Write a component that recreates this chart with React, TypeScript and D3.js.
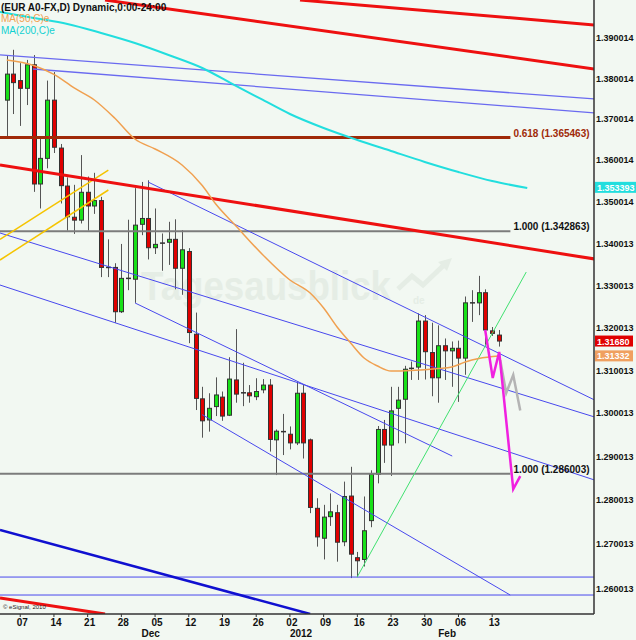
import React from 'react';
import * as d3 from 'd3';

// ---------- DATA ----------
const dates = [
  '2011-11-03','2011-11-04','2011-11-07','2011-11-08','2011-11-09','2011-11-10','2011-11-11',
  '2011-11-14','2011-11-15','2011-11-16','2011-11-17','2011-11-18','2011-11-21','2011-11-22',
  '2011-11-23','2011-11-24','2011-11-25','2011-11-28','2011-11-29','2011-11-30','2011-12-01',
  '2011-12-02','2011-12-05','2011-12-06','2011-12-07','2011-12-08','2011-12-09','2011-12-12',
  '2011-12-13','2011-12-14','2011-12-15','2011-12-16','2011-12-19','2011-12-20','2011-12-21',
  '2011-12-22','2011-12-23','2011-12-26','2011-12-27','2011-12-28','2011-12-29','2011-12-30',
  '2012-01-02','2012-01-03','2012-01-04','2012-01-05','2012-01-06','2012-01-09','2012-01-10',
  '2012-01-11','2012-01-12','2012-01-13','2012-01-16','2012-01-17','2012-01-18','2012-01-19',
  '2012-01-20','2012-01-23','2012-01-24','2012-01-25','2012-01-26','2012-01-27','2012-01-30',
  '2012-01-31','2012-02-01','2012-02-02','2012-02-03','2012-02-06','2012-02-07','2012-02-08',
  '2012-02-09','2012-02-10','2012-02-13','2012-02-14'
];
const opens = [
  1.3746,1.3810,1.3794,1.3775,1.3833,1.3542,1.3604,1.3746,1.3629,1.3537,1.3462,1.3455,1.3522,1.3489,
  1.3502,1.3342,1.3342,1.3237,1.3316,1.3314,1.3445,1.3459,1.3389,1.3400,1.3402,1.3409,1.3340,1.3380,
  1.3184,1.3033,1.2984,1.3015,1.3037,1.2995,1.3077,1.3047,1.3047,1.3038,1.3054,1.3065,1.2938,1.2957,
  1.2951,1.2931,1.3046,1.2938,1.2781,1.2713,1.2762,1.2771,1.2705,1.2809,1.2669,1.2665,1.2753,1.2859,
  1.2962,1.2926,1.3011,1.3032,1.3104,1.3107,1.3215,1.3141,1.3082,1.3157,1.3145,1.3151,1.3128,1.3258,
  1.3258,1.3282,1.3192,1.3182
];
const highs = [
  1.3857,1.3870,1.3837,1.3845,1.3857,1.3653,1.3794,1.3815,1.3639,1.3558,1.3540,1.3612,1.3560,1.3569,
  1.3511,1.3409,1.3352,1.3398,1.3456,1.3532,1.3547,1.3551,1.3483,1.3423,1.3451,1.3457,1.3431,1.3388,
  1.3235,1.3061,1.3046,1.3083,1.3050,1.3130,1.3196,1.3117,1.3065,1.3081,1.3079,1.3079,1.2962,1.2998,
  1.2969,1.3073,1.3065,1.2941,1.2804,1.2789,1.2815,1.2789,1.2842,1.2876,1.2682,1.2808,1.2868,1.2970,
  1.2984,1.3061,1.3061,1.3110,1.3120,1.3233,1.3229,1.3211,1.3205,1.3174,1.3167,1.3169,1.3273,1.3288,
  1.3322,1.3290,1.3201,1.3194
];
const lows = [
  1.3657,1.3712,1.3683,1.3734,1.3523,1.3483,1.3580,1.3617,1.3495,1.3430,1.3422,1.3447,1.3430,1.3470,
  1.3319,1.3319,1.3211,1.3234,1.3288,1.3258,1.3419,1.3361,1.3374,1.3334,1.3348,1.3290,1.3277,1.3163,
  1.3007,1.2943,1.2957,1.2993,1.2982,1.2993,1.3024,1.3016,1.3024,1.3030,1.3046,1.2911,1.2857,1.2903,
  1.2916,1.2926,1.2895,1.2770,1.2694,1.2665,1.2741,1.2660,1.2695,1.2623,1.2625,1.2649,1.2738,1.2838,
  1.2885,1.2855,1.2930,1.2930,1.3077,1.3077,1.3078,1.3039,1.3024,1.3077,1.3061,1.3026,1.3089,1.3213,
  1.3229,1.3159,1.3180,1.3155
];
const closes = [
  1.3810,1.3789,1.3775,1.3833,1.3542,1.3604,1.3746,1.3631,1.3538,1.3463,1.3455,1.3522,1.3489,1.3502,
  1.3342,1.3342,1.3237,1.3316,1.3316,1.3443,1.3459,1.3389,1.3397,1.3400,1.3409,1.3340,1.3384,1.3188,
  1.3034,1.2982,1.3011,1.3042,1.2993,1.3079,1.3044,1.3047,1.3040,1.3050,1.3065,1.2939,1.2958,1.2957,
  1.2931,1.3046,1.2931,1.2783,1.2716,1.2761,1.2773,1.2704,1.2808,1.2677,1.2662,1.2730,1.2859,1.2962,
  1.2926,1.3005,1.3030,1.3102,1.3104,1.3215,1.3143,1.3082,1.3157,1.3145,1.3151,1.3128,1.3258,1.3258,
  1.3282,1.3194,1.3186,1.3168
];
opens[18] = 1.3316;

const ma50Index = [0,4,7,10,13,16,19,22,26,29,31,34,38,42,45,47,49,51,53,55,57,60,64,66,68,70,73];
const ma50Value = [1.38448,1.38312,1.38091,1.37759,1.37464,1.37023,1.36511,1.36268,1.35880,1.35384,
  1.34938,1.34409,1.33716,1.33121,1.32813,1.32458,1.32010,1.31634,1.31282,1.31095,1.30978,1.30990,
  1.31036,1.31071,1.31189,1.31271,1.31329];
const ma200Index = [-1,4,9,14,19,24,29,34,38,42,47,52,57,62,67,72,77.2];
const ma200Value = [1.39638,1.39489,1.39340,1.39116,1.38868,1.38572,1.38251,1.37808,1.37464,1.37121,
  1.36779,1.36487,1.36219,1.35954,1.35710,1.35492,1.35323];

const yTickValues = [1.390014,1.380014,1.370014,1.360014,1.350014,1.340013,1.330013,1.320013,1.310013,
  1.300013,1.290013,1.280013,1.270013,1.260013];
const yTickLabels = ['1.390014','1.380014','1.370014','1.360014','1.350014','1.340013','1.330013',
  '1.320013','1.310013','1.300013','1.290013','1.280013','1.270013','1.260013'];

const xTickDates = ['2011-11-07','2011-11-14','2011-11-21','2011-11-28','2011-12-05','2011-12-12',
  '2011-12-19','2011-12-26','2012-01-02','2012-01-09','2012-01-16','2012-01-23','2012-01-30',
  '2012-02-06','2012-02-13'];
const xTickLabels = ['07','14','21','28','05','12','19','26','02','09','16','23','30','06','13'];
const monthDates = ['2011-12-01','2012-01-02','2012-02-01'];
const monthLabels = ['Dec','2012','Feb'];

const fibValues = [1.365463, 1.342863, 1.286003];
const fibLabels = ['0.618 (1.365463)', '1.000 (1.342863)', '1.000 (1.286003)'];
const fibEndIndex = 74.7;

// Drawn trend lines: [startIndex, startPrice, endIndex, endPrice]
const redTrendLines = [
  [43.5, 1.39937, 87.2, 1.39316],
  [14.58, 1.39937, 87.2, 1.38226],
  [-1, 1.35880, 87.2, 1.33621],
  [-1, 1.25781, 14.58, 1.25424],
];
const blueTrendLines = [
  [20.96, 1.35468, 87.2, 1.30302],
  [-1, 1.34242, 87.2, 1.29908],
  [-1, 1.33002, 87.2, 1.28456],
  [19.04, 1.32576, 66.07, 1.29007],
  [28.98, 1.29964, 74.67, 1.25849],
  [-1, 1.26253, 87.2, 1.26253],
  [-1, 1.25849, 87.2, 1.25849],
];
const lightBlueTrendLines = [
  [-1, 1.38572, 87.2, 1.37488],
  [3.9, 1.38226, 87.2, 1.37146],
];
const darkBlueTrendLines = [[-1, 1.27316, 45.0, 1.25424]];
const goldTrendLines = [
  [-1, 1.34091, 15.07, 1.35758],
  [-1, 1.33597, 15.07, 1.35275],
];
const greenTrendLines = [[51.97, 1.26253, 77.05, 1.33311]];

// Projection paths: [index, price]
const magentaPath = [[70.96, 1.31939],[72.08, 1.30815],[73.04, 1.31423],[75.12, 1.28250],[76.16, 1.28548]];
const grayPath = [[73.19, 1.31235],[74.08, 1.30465],[75.12, 1.30885],[76.16, 1.30057]];

const priceTagValues = [1.353393, 1.31680, 1.31332];
const priceTagLabels = ['1.353393', '1.31680', '1.31332'];

// ---------- COMPONENT ----------
export default function App() {
  const W = 636, H = 640, PW = 594, PH = 614;
  const x = d3.scaleLinear().domain([-1, 87.1]).range([0, PW]);
  const y = d3.scaleLog().domain([1.25424, 1.39937]).range([PH, 0]);
  const font = "'Liberation Sans', Arial, sans-serif";
  const idx = (d: string) => dates.indexOf(d);

  const seg = (l: number[]) => `M${x(l[0])},${y(l[1])}L${x(l[2])},${y(l[3])}`;
  const pline = d3.line<number[]>().x(d => x(d[0])).y(d => y(d[1]));
  const maLine = d3.line<number[]>().x(d => x(d[0])).y(d => y(d[1])).curve(d3.curveMonotoneX);
  const ma50Pts = ma50Index.map((v, i) => [v, ma50Value[i]]);
  const ma200Pts = ma200Index.map((v, i) => [v, ma200Value[i]]);

  const tagColors = ['#22dede', '#e00000', '#f0a060'];
  const wm = '#e5ede5';

  return (
    <svg width={W} height={H} style={{ position: 'absolute', left: 0, top: 0 }} fontFamily={font}>
      <defs>
        <clipPath id="plot"><rect x={0} y={0} width={PW} height={PH} /></clipPath>
      </defs>
      <rect x={0} y={0} width={W} height={H} fill="#f2f8f2" />

      {/* watermark */}
      <g>
        <text x={141} y={300} fontSize={40} fontWeight="bold" fill={wm} textLength={250}
          lengthAdjust="spacingAndGlyphs">Tagesausblick</text>
        <text x={413} y={304} fontSize={10} fontWeight="bold" fill={wm}>de</text>
        <polyline points="398,289 412,276 423,285 444,265" fill="none" stroke={wm} strokeWidth={5} />
        <polygon points="438,262 452,258 447,271" fill={wm} />
      </g>

      <g clipPath="url(#plot)">
        {dates.map((d, i) => {
          const o = opens[i], c = closes[i], h = highs[i], l = lows[i];
          const cx = Math.round(x(i)) + 0.5;
          const doji = Math.abs(o - c) < 0.00005;
          const top = y(Math.max(o, c)), bot = y(Math.min(o, c));
          return (
            <g key={d}>
              <line x1={cx} x2={cx} y1={y(h)} y2={y(l)} stroke="#555" strokeWidth={1} />
              {doji ? (
                <rect x={cx - 2.5} y={top - 0.75} width={5} height={1.5} fill="#333" />
              ) : (
                <rect x={cx - 2} y={top} width={4} height={Math.max(1, bot - top)}
                  fill={c > o ? '#18e018' : '#e00000'} stroke="#333" strokeWidth={1} />
              )}
            </g>
          );
        })}

        {fibValues.map((v, i) => (
          <line key={'f' + i} x1={0} x2={x(fibEndIndex)} y1={y(v)} y2={y(v)}
            stroke={i === 0 ? '#a02a08' : '#7c7c7c'} strokeWidth={i === 0 ? 3 : 2} />
        ))}

        {lightBlueTrendLines.map((l, i) => <path key={'lb' + i} d={seg(l)} stroke="#6a6af0" strokeWidth={1.3} fill="none" />)}
        {blueTrendLines.map((l, i) => <path key={'b' + i} d={seg(l)} stroke="#4848ee" strokeWidth={1} fill="none" />)}
        {darkBlueTrendLines.map((l, i) => <path key={'db' + i} d={seg(l)} stroke="#1010d0" strokeWidth={2.5} fill="none" />)}
        {goldTrendLines.map((l, i) => <path key={'g' + i} d={seg(l)} stroke="#f5c400" strokeWidth={1.5} fill="none" />)}
        {greenTrendLines.map((l, i) => <path key={'gr' + i} d={seg(l)} stroke="#40e070" strokeWidth={1} fill="none" />)}
        {redTrendLines.map((l, i) => <path key={'r' + i} d={seg(l)} stroke="#ee1010" strokeWidth={3} fill="none" />)}

        <path d={maLine(ma200Pts) || ''} stroke="#22dede" strokeWidth={2} fill="none" />
        <path d={maLine(ma50Pts) || ''} stroke="#f0a050" strokeWidth={1.5} fill="none" />

        <path d={pline(grayPath) || ''} stroke="#b4b4b4" strokeWidth={2.5} fill="none" />
        <path d={pline(magentaPath) || ''} stroke="#f020e0" strokeWidth={2.5} fill="none" />
      </g>

      {fibValues.map((v, i) => (
        <text key={'fl' + i} x={x(fibEndIndex) + 3} y={y(v) - 1} fontSize={10} fontWeight="bold"
          fill={i === 0 ? '#a02a08' : '#111'}>{fibLabels[i]}</text>
      ))}

      <text x={1} y={11} fontSize={10} fontWeight="bold" fill="#111">(EUR A0-FX,D) Dynamic,0:00-24:00</text>
      <text x={1} y={22} fontSize={10} fill="#f0a050">MA(50,C)e</text>
      <text x={1} y={34} fontSize={10} fill="#10d0d0">MA(200,C)e</text>

      <line x1={PW} x2={PW} y1={0} y2={PH} stroke="#333" strokeWidth={1.5} />
      <line x1={0} x2={PW} y1={PH} y2={PH} stroke="#333" strokeWidth={1.5} />
      {yTickValues.map((v, i) => (
        <text key={'yt' + i} x={596} y={y(v) + 3.5} fontSize={9} fontWeight="bold" fill="#111">{yTickLabels[i]}</text>
      ))}
      {xTickDates.map((d, i) => (
        <g key={'xt' + i}>
          <line x1={x(idx(d))} x2={x(idx(d))} y1={PH} y2={PH + 3} stroke="#333" />
          <text x={x(idx(d)) + 2} y={626} fontSize={10} fontWeight="bold" fill="#111" textAnchor="middle">{xTickLabels[i]}</text>
        </g>
      ))}
      {monthDates.map((d, i) => (
        <text key={'m' + i} x={x(idx(d))} y={637} fontSize={10} fontWeight="bold" fill="#111">{monthLabels[i]}</text>
      ))}

      {priceTagValues.map((v, i) => (
        <g key={'pt' + i}>
          <rect x={595} y={y(v) - 5.5} width={i === 0 ? 41 : 38} height={11} fill={tagColors[i]} />
          <text x={597} y={y(v) + 3.5} fontSize={9} fontWeight="bold" fill="#fff">{priceTagLabels[i]}</text>
        </g>
      ))}

      <text x={3} y={609} fontSize={6} fill="#222">© eSignal, 2010</text>
    </svg>
  );
}
